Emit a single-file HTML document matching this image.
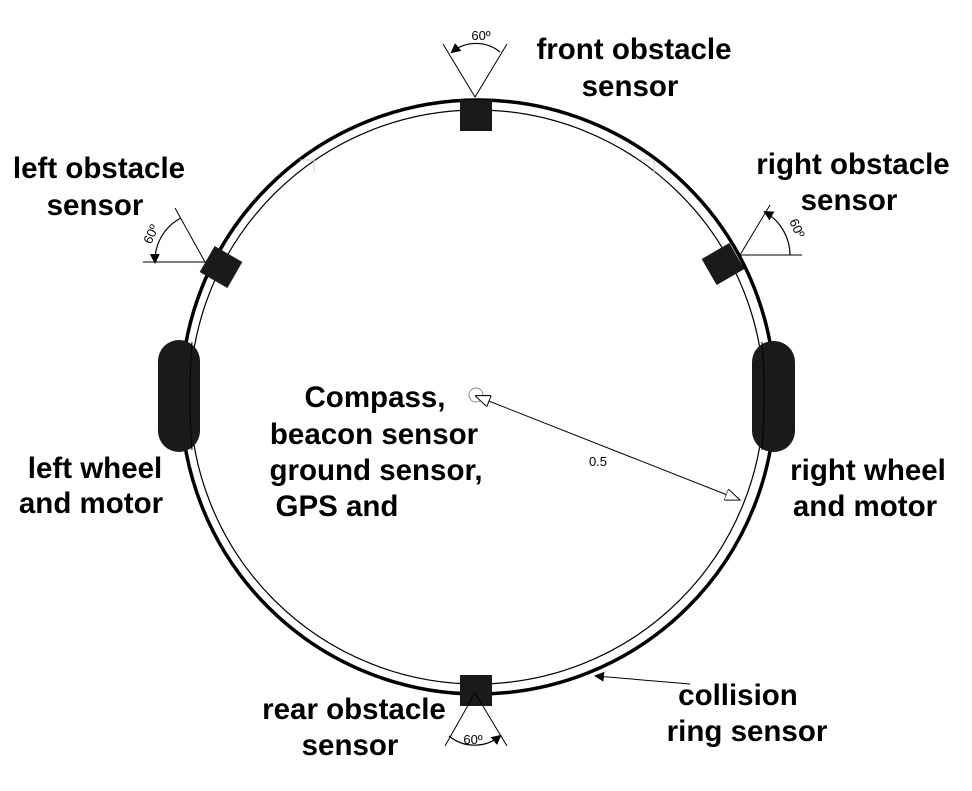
<!DOCTYPE html>
<html><head><meta charset="utf-8"><style>
html,body{margin:0;padding:0;background:#fff}
svg{display:block}
.lb{font-family:"Liberation Sans",sans-serif;font-weight:bold;font-size:29.5px;fill:#000;text-anchor:middle}
.sm{font-family:"Liberation Sans",sans-serif;font-size:13px;fill:#000;text-anchor:middle}
</style></head><body>
<svg width="972" height="791" viewBox="0 0 972 791">
<defs>
<marker id="fa" markerWidth="10" markerHeight="10" refX="8" refY="5" orient="auto" markerUnits="userSpaceOnUse"><path d="M0,0 L10,5 L0,10 z" fill="#000"/></marker>
<marker id="oa" markerWidth="16" markerHeight="12" refX="15" refY="6" orient="auto" markerUnits="userSpaceOnUse"><path d="M0,0 L15,6 L0,12 z" fill="#fff" stroke="#000"/></marker>
<marker id="oas" markerWidth="16" markerHeight="12" refX="1" refY="6" orient="auto" markerUnits="userSpaceOnUse"><path d="M15,0 L0,6 L15,12 z" fill="#fff" stroke="#000"/></marker>
</defs>
<circle cx="478" cy="397" r="297" fill="none" stroke="#000" stroke-width="3.5"/>
<circle cx="477" cy="397" r="287" fill="none" stroke="#000" stroke-width="1.2"/>
<path d="M300,160 h14 v12 M640,160 h14 v12" fill="none" stroke="#ccc" stroke-width="1"/>
<g>
<rect x="460" y="100" width="32" height="31" fill="#1a1a1a"/>
<path d="M443,44 L475,97 L507,44" fill="none" stroke="#000" stroke-width="1"/>
<path d="M500,52 A38,38 0 0 0 452,52" fill="none" stroke="#000" stroke-width="1.2" marker-end="url(#fa)"/>
<text class="sm" x="481" y="40">60º</text>
</g>
<g>
<rect x="460" y="675" width="32" height="31" fill="#1a1a1a"/>
<path d="M445,746 L475,693 L507,746" fill="none" stroke="#000" stroke-width="1"/>
<path d="M449,736 A40,40 0 0 0 500,736" fill="none" stroke="#000" stroke-width="1.2" marker-end="url(#fa)"/>
<text class="sm" x="473" y="744">60º</text>
</g>
<g>
<rect x="205" y="252" width="32" height="30" fill="#1a1a1a" transform="rotate(30 221 267)"/>
<path d="M143,262 L205,262 L175,208" fill="none" stroke="#000" stroke-width="1"/>
<path d="M181,218 A48,48 0 0 0 155,262" fill="none" stroke="#000" stroke-width="1.2" marker-end="url(#fa)"/>
<text class="sm" x="155" y="236" transform="rotate(-65 155 236)">60º</text>
</g>
<g>
<rect x="707" y="249" width="32" height="30" fill="#1a1a1a" transform="rotate(-30 723 264)"/>
<path d="M802,255 L740,255 L770,205" fill="none" stroke="#000" stroke-width="1"/>
<path d="M790,255 A50,50 0 0 0 765,212" fill="none" stroke="#000" stroke-width="1.2" marker-end="url(#fa)"/>
<text class="sm" x="793" y="230" transform="rotate(65 793 230)">60º</text>
</g>
<rect x="158" y="340" width="42" height="112" rx="21" fill="#1a1a1a"/>
<rect x="752" y="341" width="43" height="111" rx="21" fill="#1a1a1a"/>
<path d="M192,342 Q188,396 192,450 M762,342 Q766,396 762,450" fill="none" stroke="#000" stroke-width="1"/>
<circle cx="476" cy="395" r="7" fill="#fff" stroke="#888"/>
<line x1="476" y1="396" x2="740" y2="500" stroke="#000" stroke-width="1" marker-start="url(#oas)" marker-end="url(#oa)"/>
<text class="sm" x="598" y="466">0.5</text>
<line x1="690" y1="684" x2="596" y2="676" stroke="#000" stroke-width="1" marker-end="url(#fa)"/>
<text class="lb" x="634" y="59">front obstacle</text>
<text class="lb" x="630" y="96">sensor</text>
<text class="lb" x="99" y="178">left obstacle</text>
<text class="lb" x="95" y="215">sensor</text>
<text class="lb" x="853" y="174">right obstacle</text>
<text class="lb" x="849" y="210">sensor</text>
<text class="lb" x="375" y="407">Compass,</text>
<text class="lb" x="374" y="444">beacon sensor</text>
<text class="lb" x="376" y="480">ground sensor,</text>
<text class="lb" x="337" y="516">GPS and</text>
<text class="lb" x="95" y="478">left wheel</text>
<text class="lb" x="91" y="513">and motor</text>
<text class="lb" x="868" y="480">right wheel</text>
<text class="lb" x="865" y="516">and motor</text>
<text class="lb" x="354" y="719">rear obstacle</text>
<text class="lb" x="350" y="755">sensor</text>
<text class="lb" x="738" y="705">collision</text>
<text class="lb" x="747" y="741">ring sensor</text>
</svg>
</body></html>
